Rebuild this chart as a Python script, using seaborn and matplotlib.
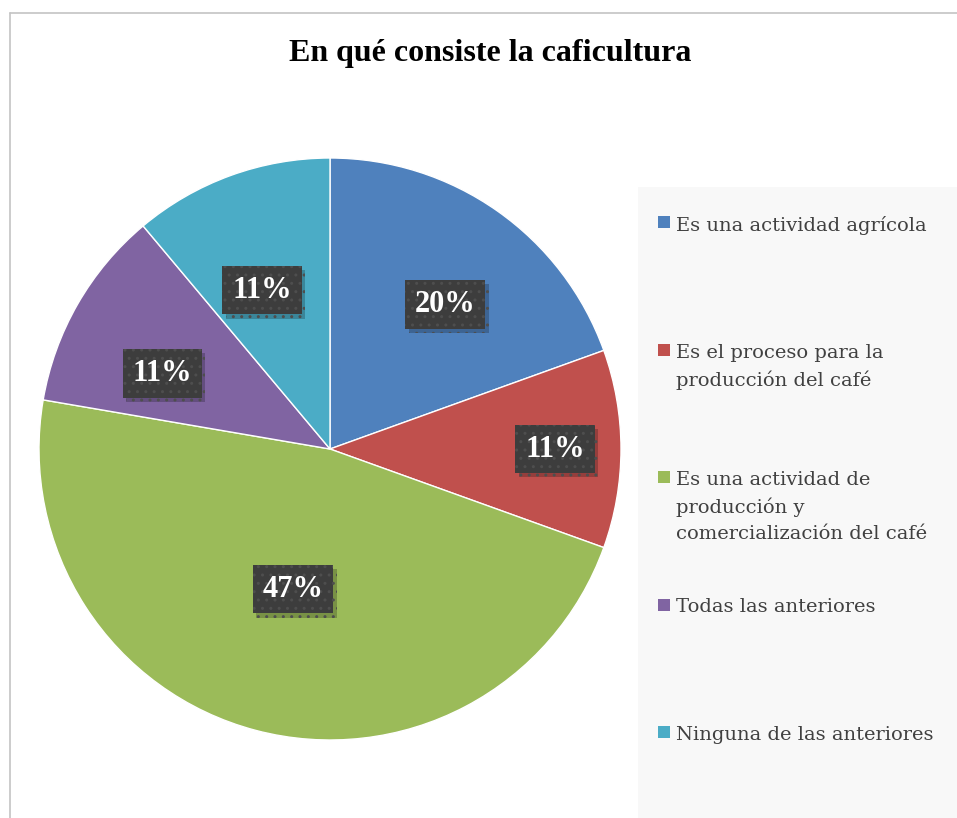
import numpy as np
import matplotlib
matplotlib.use("Agg")
import matplotlib.pyplot as plt
from matplotlib.patches import Rectangle
from matplotlib.lines import Line2D
import matplotlib.patheffects as pe
import seaborn as sns

title = "En qué consiste la caficultura"
categories = [
    "Es una actividad agrícola",
    "Es el proceso para la\nproducción del café",
    "Es una actividad de\nproducción y\ncomercialización del café",
    "Todas las anteriores",
    "Ninguna de las anteriores",
]
# slice sizes; labels as printed on the chart
shares = [19.5, 11.0, 47.2, 11.2, 11.1]
pct_labels = ["20%", "11%", "47%", "11%", "11%"]
colors = ["#4F81BD", "#C0504D", "#9BBB59", "#8064A2", "#4BACC6"]

# label placement: radial distance and position along each wedge (clockwise)
label_dist = [0.635, 0.773, 0.498, 0.632, 0.594]
label_frac = [0.55, 0.50, 0.50, 0.36, 0.42]

sns.set_style("white")
plt.rcParams["font.family"] = ["Liberation Serif", "DejaVu Serif"]

W, H = 957, 818
fig = plt.figure(figsize=(W / 100, H / 100), dpi=100)

# ── frame lines (top + left) ───────────────────────────────────────────
fig.add_artist(Line2D([10 / W, 1], [1 - 13 / H] * 2, color="#c4c4c4", lw=1.2))
fig.add_artist(Line2D([10 / W] * 2, [0, 1 - 13 / H], color="#c4c4c4", lw=1.2))

# ── legend panel background ────────────────────────────────────────────
fig.add_artist(Rectangle((638 / W, 0), 1 - 638 / W, 1 - 187 / H,
                         transform=fig.transFigure, facecolor="#f8f8f8",
                         edgecolor="none", zorder=0))

fig.text(490 / W, 1 - 54 / H, title, ha="center", va="center",
         fontsize=23, fontweight="bold", color="black")

# ── pie ────────────────────────────────────────────────────────────────
cx, cy, r = 330, 449, 291
ax = fig.add_axes([(cx - r) / W, (H - cy - r) / H, 2 * r / W, 2 * r / H])
wedges, _ = ax.pie(shares, colors=colors, startangle=90, counterclock=False,
                   radius=1, wedgeprops=dict(edgecolor="white", linewidth=1.0))
ax.set_xlim(-1, 1)
ax.set_ylim(-1, 1)
ax.set_aspect("equal")
ax.axis("off")

for w, lab, d, f in zip(wedges, pct_labels, label_dist, label_frac):
    ang = np.deg2rad(w.theta2 - f * (w.theta2 - w.theta1))
    x, y = d * np.cos(ang), d * np.sin(ang)
    t = ax.text(x, y, lab, ha="center", va="center", color="white",
                fontsize=22, fontweight="bold",
                bbox=dict(boxstyle="square,pad=0.32", linewidth=0,
                          facecolor="#3d3d3d", edgecolor="#4e4e4e", hatch=".."))
    t.get_bbox_patch().set_path_effects(
        [pe.SimplePatchShadow(offset=(2.5, -3), shadow_rgbFace="black", alpha=0.22),
         pe.Normal()])

# ── legend (manual: handles aligned with first line of each label) ────
leg_top, leg_step = 222, 127.5
for i, (lab, c) in enumerate(zip(categories, colors)):
    ym = leg_top + i * leg_step
    fig.add_artist(Rectangle((658 / W, 1 - (ym + 6) / H), 12 / W, 12 / H,
                             transform=fig.transFigure, facecolor=c,
                             edgecolor="none"))
    fig.text(676 / W, 1 - (ym - 6) / H, lab, ha="left", va="top",
             fontsize=14, color="#404040", family="DejaVu Serif",
             linespacing=1.55)

fig.savefig("out.png", dpi=100)
